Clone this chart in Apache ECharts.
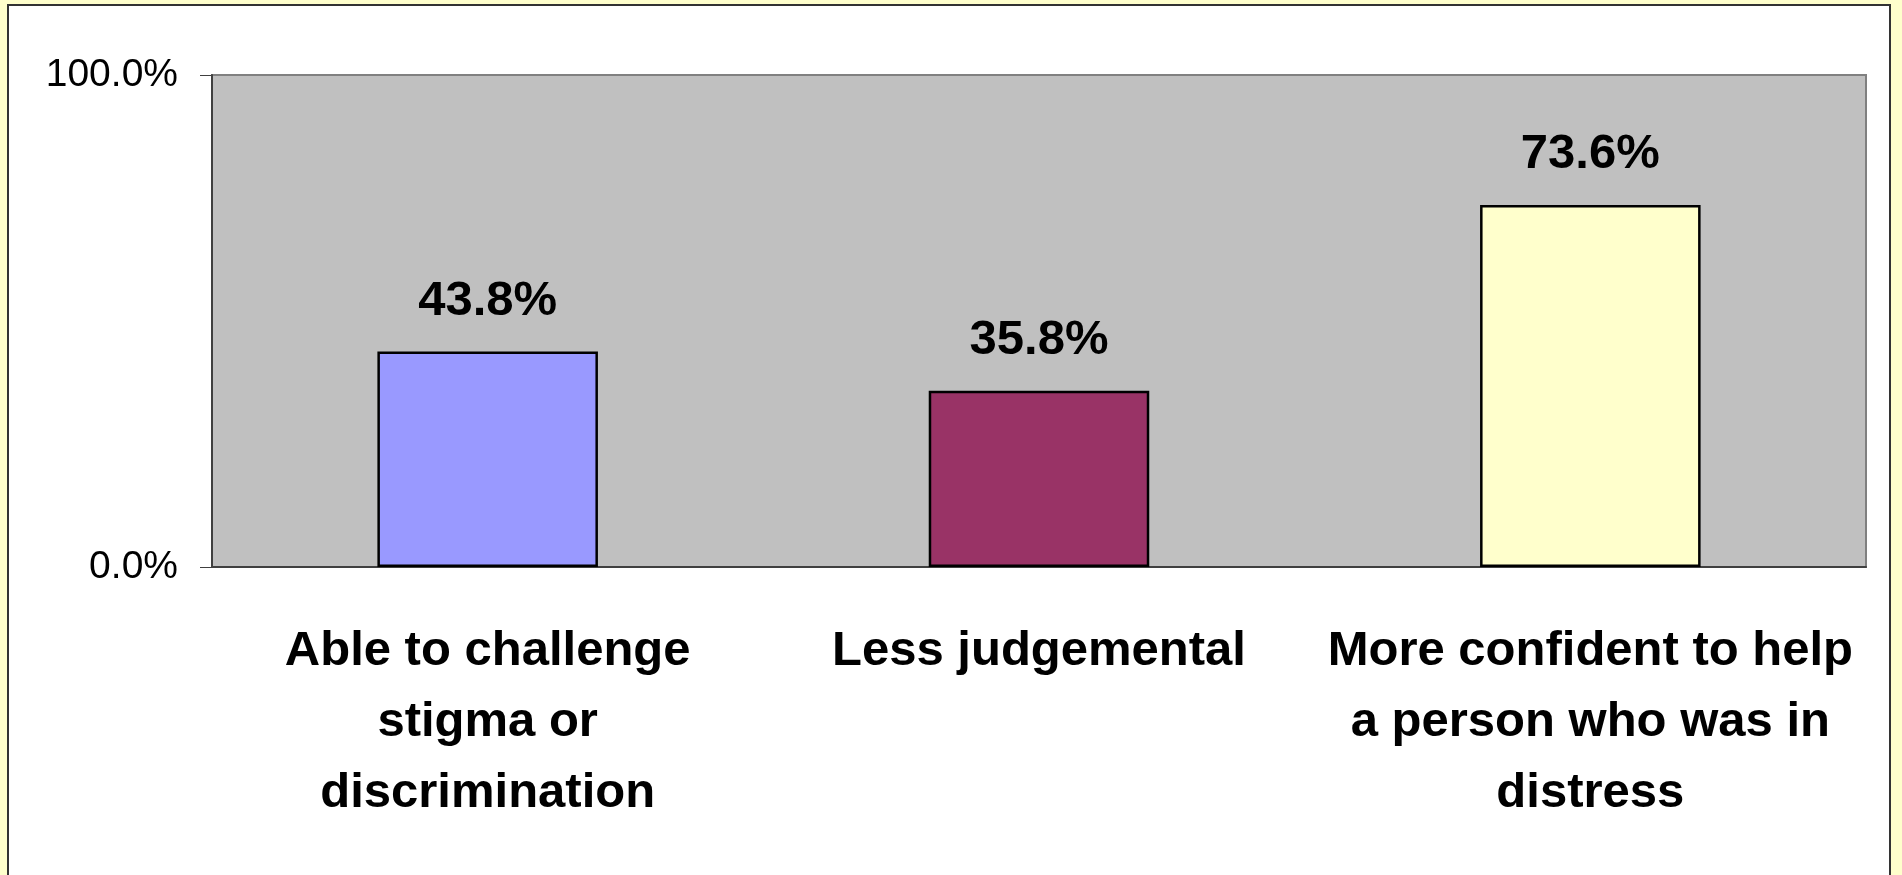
<!DOCTYPE html>
<html>
<head>
<meta charset="utf-8">
<script src="https://cdn.jsdelivr.net/npm/echarts@6/dist/echarts.min.js"></script>
<style>
  html, body { margin: 0; padding: 0; background: #FFFFCC; }
  .frame {
    position: absolute; left: 7px; top: 4px; width: 1884px; height: 880px;
    background: #fff; border: 2px solid #333; box-sizing: border-box;
  }
  #chart { position: absolute; left: 0; top: 0; width: 1902px; height: 875px; }
</style>
</head>
<body>
<div class="frame"></div>
<div id="chart"></div>
<script>
// chart data
const categories = [
  "Able to challenge\nstigma or\ndiscrimination",
  "Less judgemental",
  "More confident to help\na person who was in\ndistress"
];
const values = [43.8, 35.8, 73.6];
const barColors = ["#9999FF", "#993366", "#FFFFCC"];
const yTicks = [0, 100];

const chart = echarts.init(document.getElementById("chart"));
chart.setOption({
  animation: false,
  textStyle: { fontFamily: "Liberation Sans, Arial, sans-serif" },
  grid: {
    left: 212, right: 36, top: 75, bottom: 308,
    show: true,
    backgroundColor: "#C0C0C0",
    borderColor: "#808080",
    borderWidth: 2
  },
  xAxis: {
    type: "category",
    data: categories,
    axisLine: { lineStyle: { color: "#404040", width: 2 } },
    axisTick: { length: 16, lineStyle: { color: "#222", width: 1 } },
    axisLabel: {
      interval: 0,
      color: "#000",
      fontSize: 49,
      fontWeight: "bold",
      lineHeight: 71,
      margin: 49
    }
  },
  yAxis: {
    type: "value",
    min: yTicks[0],
    max: yTicks[yTicks.length - 1],
    interval: 100,
    splitLine: { show: false },
    axisLine: { show: true, lineStyle: { color: "#404040", width: 2 } },
    axisTick: { show: true, length: 12, lineStyle: { color: "#404040" } },
    axisLabel: {
      color: "#000",
      fontSize: 39,
      margin: 34,
      formatter: v => v.toFixed(1) + "%"
    }
  },
  series: [{
    type: "bar",
    barWidth: "40%",
    data: values.map((v, i) => ({
      value: v,
      itemStyle: { color: barColors[i] }
    })),
    itemStyle: { borderColor: "#000", borderWidth: 2.5 },
    label: {
      show: true,
      position: "top",
      distance: 26,
      color: "#000",
      fontSize: 49,
      fontWeight: "bold",
      formatter: p => p.value.toFixed(1) + "%"
    }
  }]
});
</script>
</body>
</html>
